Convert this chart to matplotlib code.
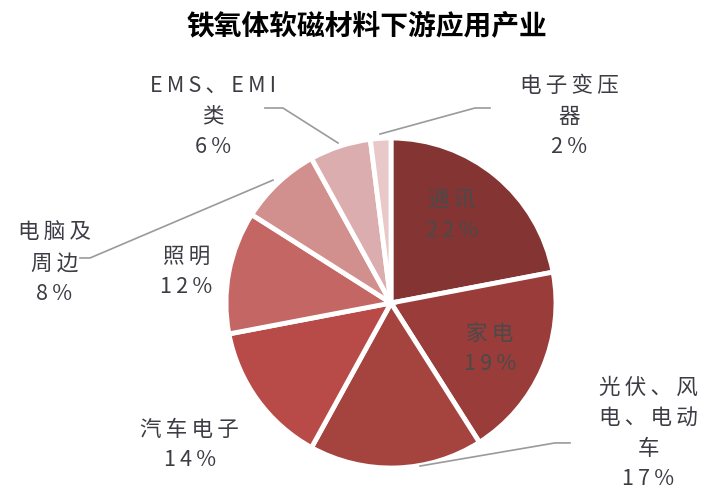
import matplotlib
matplotlib.use("Agg")
from matplotlib import pyplot as plt

plt.rcParams['font.family'] = ['Noto Sans CJK SC', 'DejaVu Sans']

# data
categories = ["通讯", "家电", "光伏、风电、电动车", "汽车电子", "照明", "电脑及周边", "EMS、EMI类", "电子变压器"]
label_text = ["通讯", "家电", "光伏、风\n电、电动\n车", "汽车电子", "照明", "电脑及\n周边", "EMS、EMI\n类", "电子变压\n器"]
shares = [22, 19, 17, 14, 12, 8, 6, 2]
colors = ["#843432", "#9a3c39", "#a5433f", "#b84b48", "#c46664", "#d18f8e", "#dcadae", "#e8c8c9"]

# label placement (data units, pie radius = 1)
label_pos = [(0.37, 0.53), (0.60, -0.28), (1.56, -0.79), (-1.22, -0.86),
             (-1.24, 0.19), (-2.04, 0.24), (-1.08, 1.13), (1.08, 1.13)]
# leader lines: (start on pie, elbow, end) or None
leaders = [None, None,
           [(0.176, -0.988), (0.994, -0.848), (1.085, -0.848)],
           None, None,
           [(-0.715, 0.745), (-1.824, 0.273), (-1.885, 0.273)],
           [(-0.321, 0.97), (-0.655, 1.182), (-0.764, 1.182)],
           [(-0.067, 1.024), (0.509, 1.182), (0.60, 1.182)]]


def spaced(s):
    # wide letter spacing like the original
    return "\n".join("\u2009".join(line) for line in s.split("\n"))


fig = plt.figure(figsize=(7.1, 4.99), dpi=100)
ax = fig.add_axes([0.3183, 0.0621, 0.4648, 0.6613])

ax.pie(shares, colors=colors, startangle=90, counterclock=False,
       wedgeprops=dict(edgecolor="white", linewidth=3.5))
ax.set_xlim(-1, 1)
ax.set_ylim(-1, 1)
ax.set_aspect("equal")
ax.axis("off")

for i, (txt, val) in enumerate(zip(label_text, shares)):
    x, y = label_pos[i]
    inside = i < 2
    ax.text(x, y, spaced(f"{txt}\n{val}%"), ha="center", va="center",
            fontsize=15.5, linespacing=1.5,
            color="#4a4a4a" if inside else "#3c3c44")
    if leaders[i] is not None:
        xs = [p[0] for p in leaders[i]]
        ys = [p[1] for p in leaders[i]]
        ax.plot(xs, ys, color="#9a9a9a", linewidth=1.2, clip_on=False)

fig.text(367 / 710, 1 - 27 / 499, "铁氧体软磁材料下游应用产业",
         ha="center", va="center", fontsize=20, fontweight="bold", color="black")

fig.savefig("out.png", dpi=100)
